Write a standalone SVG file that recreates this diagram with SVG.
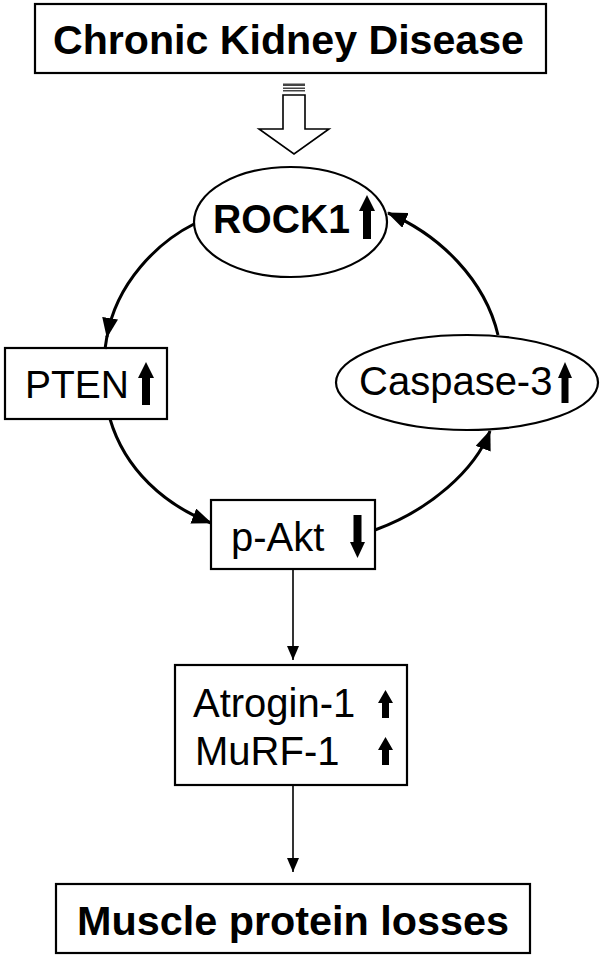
<svg xmlns="http://www.w3.org/2000/svg" width="603" height="958" viewBox="0 0 603 958">
<style>
.box{fill:#fff;stroke:#000;stroke-width:2.2}
.t{font-family:"Liberation Sans",Arial,sans-serif;fill:#000}
.b{font-weight:bold;font-size:41px}
.r{font-size:40px}
.arc{fill:none;stroke:#000;stroke-width:3}
.ln{fill:none;stroke:#000;stroke-width:1.6}
.fa{fill:#000}
</style>
<defs>
<marker id="ah" markerUnits="userSpaceOnUse" viewBox="0 0 20 16" refX="19" refY="8" markerWidth="20" markerHeight="16" orient="auto">
<path d="M0,0 L20,8 L0,16 Z" fill="#000"/>
</marker>
<marker id="as" markerUnits="userSpaceOnUse" viewBox="0 0 14 12" refX="14" refY="6" markerWidth="14" markerHeight="12" orient="auto">
<path d="M0,0 L14,6 L0,12 Z" fill="#000"/>
</marker>
</defs>

<g id="ckd">
<rect class="box" x="35" y="4" width="511" height="69"/>
<text class="t b" x="53" y="54" textLength="471" lengthAdjust="spacingAndGlyphs">Chronic Kidney Disease</text>
</g>

<g id="hollow-arrow">
<rect x="283" y="83.5" width="22" height="2.5" fill="#444"/>
<rect x="283" y="87.5" width="22" height="1.5" fill="#444"/>
<rect x="283" y="90" width="22" height="1.5" fill="#444"/>
<path d="M283,95 L283,129 L259,129 L294,154 L329,129 L305,129 L305,95 Z" fill="#fff" stroke="#000" stroke-width="1.6"/>
</g>

<g id="rock1">
<ellipse class="box" cx="290.5" cy="222" rx="96.5" ry="55"/>
<text class="t" x="213" y="233" font-weight="bold" font-size="40" textLength="137" lengthAdjust="spacingAndGlyphs">ROCK1</text>
<path class="fa" d="M367,195 L375,211 L371,211 L371,239 L363,239 L363,211 L359,211 Z"/>
</g>

<g id="pten">
<rect class="box" x="5" y="348" width="162" height="71"/>
<text class="t" x="25" y="398" font-size="39">PTEN</text>
<path class="fa" d="M146,362 L154,378 L150,378 L150,405 L142,405 L142,378 L138,378 Z"/>
</g>

<g id="caspase3">
<ellipse class="box" cx="467" cy="382.5" rx="131" ry="47.5"/>
<text class="t r" x="359" y="395">Caspase-3</text>
<path class="fa" d="M565,362 L572,378 L568.5,378 L568.5,403 L561.5,403 L561.5,378 L558,378 Z"/>
</g>

<g id="pakt">
<rect class="box" x="211" y="500" width="164" height="69"/>
<text class="t r" x="231" y="551">p-Akt</text>
<path class="fa" d="M357.5,558 L365,542 L361.5,542 L361.5,515 L353.5,515 L353.5,542 L350,542 Z"/>
</g>

<g id="atrogin-murf">
<rect class="box" x="175" y="665" width="232" height="120"/>
<text class="t r" x="193" y="717">Atrogin-1</text>
<text class="t r" x="195" y="765">MuRF-1</text>
<path class="fa" d="M385.5,690 L393,703 L389,703 L389,718 L382,718 L382,703 L378,703 Z"/>
<path class="fa" d="M385.5,737 L393,750 L389,750 L389,765 L382,765 L382,750 L378,750 Z"/>
</g>

<g id="muscle">
<rect class="box" x="56" y="884" width="474" height="69"/>
<text class="t b" x="77" y="935" textLength="432" lengthAdjust="spacingAndGlyphs">Muscle protein losses</text>
</g>

<g id="connectors">
<path class="arc" d="M194,224 C158,242 116,283 107,337" marker-end="url(#ah)"/>
<path class="arc" d="M107,336 L105,349"/>
<path class="arc" d="M110,419 C125,470 165,505 211,523" marker-end="url(#ah)"/>
<path class="arc" d="M375,530 C430,510 475,470 490,431" marker-end="url(#ah)"/>
<path class="arc" d="M498,335 C485,280 440,235 388,213" marker-end="url(#ah)"/>
<path class="ln" d="M293,569 L293,660" marker-end="url(#as)"/>
<path class="ln" d="M293,785 L293,872" marker-end="url(#as)"/>
</g>
</svg>
